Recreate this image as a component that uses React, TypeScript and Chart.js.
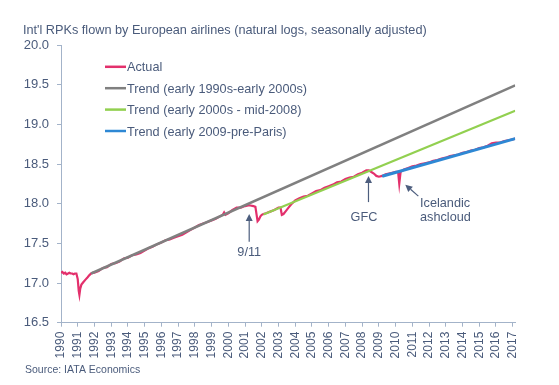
import React, { useEffect, useRef } from "react";
import { Chart, registerables } from "chart.js";

Chart.register(...registerables);

const FONT = '"Liberation Sans", Arial, sans-serif';
const TEXT = "#4A5B7B";
const AXIS = "#A3B3C9";
const ARROW = "#4D5E7E";

const titleText = "Int'l RPKs flown by European airlines (natural logs, seasonally adjusted)";
const sourceText = "Source: IATA Economics";

const xTickYears = [
  1990, 1991, 1992, 1993, 1994, 1995, 1996, 1997, 1998, 1999, 2000, 2001, 2002, 2003,
  2004, 2005, 2006, 2007, 2008, 2009, 2010, 2011, 2012, 2013, 2014, 2015, 2016, 2017,
];
const yTickValues = [16.5, 17.0, 17.5, 18.0, 18.5, 19.0, 19.5, 20.0];

const seriesLabels = [
  "Actual",
  "Trend (early 1990s-early 2000s)",
  "Trend (early 2000s - mid-2008)",
  "Trend (early 2009-pre-Paris)",
];
const seriesColors = ["#E3306C", "#808080", "#92D050", "#2E88D4"];

const actualYears = [
  1990.0, 1990.08, 1990.17, 1990.25, 1990.33, 1990.42, 1990.5, 1990.58, 1990.67, 1990.75, 1990.83, 1990.92,
  1991.0, 1991.06, 1991.1, 1991.15, 1991.22, 1991.33, 1991.45, 1991.58, 1991.7, 1991.8, 1991.92,
  1992.0, 1992.25, 1992.5, 1992.75, 1993.0, 1993.25, 1993.5, 1993.75,
  1994.0, 1994.25, 1994.5, 1994.75, 1995.0, 1995.25, 1995.5, 1995.75,
  1996.0, 1996.25, 1996.5, 1996.75, 1997.0, 1997.25, 1997.5, 1997.75,
  1998.0, 1998.25, 1998.5, 1998.75, 1999.0, 1999.25, 1999.5, 1999.67, 1999.75, 1999.83,
  2000.0, 2000.25, 2000.5, 2000.75, 2001.0, 2001.25, 2001.5, 2001.62, 2001.7, 2001.75, 2001.83, 2001.92,
  2002.0, 2002.1, 2002.25, 2002.5, 2002.75,
  2003.0, 2003.12, 2003.2, 2003.3, 2003.45, 2003.6, 2003.75,
  2004.0, 2004.25, 2004.5, 2004.75, 2005.0, 2005.25, 2005.5, 2005.75,
  2006.0, 2006.25, 2006.5, 2006.75, 2007.0, 2007.25, 2007.5, 2007.75,
  2008.0, 2008.25, 2008.4, 2008.55, 2008.7, 2008.85,
  2009.0, 2009.2, 2009.4, 2009.6, 2009.8,
  2010.0, 2010.15, 2010.22, 2010.3, 2010.5, 2010.75,
  2011.0, 2011.25, 2011.5, 2011.75, 2012.0, 2012.25, 2012.5, 2012.75,
  2013.0, 2013.25, 2013.5, 2013.75, 2014.0, 2014.25, 2014.5, 2014.75,
  2015.0, 2015.25, 2015.5, 2015.75, 2016.0, 2016.25, 2016.5, 2016.75,
  2017.0, 2017.15,
];
const actualValues = [
  17.13, 17.14, 17.12, 17.13, 17.11, 17.12, 17.13, 17.12, 17.12, 17.11, 17.12, 17.12,
  17.05, 16.9, 16.85, 16.93, 16.98, 17.01, 17.04, 17.07, 17.1, 17.12, 17.13,
  17.13, 17.15, 17.19, 17.2, 17.24, 17.25, 17.27, 17.31,
  17.32, 17.35, 17.36, 17.38, 17.41, 17.44, 17.46, 17.49,
  17.51, 17.54, 17.55, 17.57, 17.59, 17.61, 17.64, 17.67,
  17.7, 17.73, 17.75, 17.77, 17.79, 17.81, 17.84, 17.86, 17.89, 17.86,
  17.88, 17.92, 17.95, 17.95, 17.97, 17.98, 17.97, 17.96, 17.85, 17.78, 17.8, 17.84,
  17.86, 17.87, 17.88, 17.9, 17.92,
  17.95, 17.95, 17.86, 17.87, 17.91, 17.95, 17.99,
  18.04, 18.07, 18.09, 18.1, 18.13, 18.16, 18.17, 18.2,
  18.22, 18.24, 18.27, 18.28, 18.31, 18.33, 18.34, 18.37,
  18.39, 18.42, 18.42, 18.4, 18.38, 18.35,
  18.34, 18.35, 18.37, 18.38, 18.39,
  18.4, 18.4, 18.25, 18.4, 18.43, 18.45,
  18.47, 18.48, 18.5, 18.51, 18.52, 18.54, 18.55, 18.57,
  18.58, 18.6, 18.61, 18.62, 18.64, 18.65, 18.67, 18.68,
  18.7, 18.71, 18.73, 18.76, 18.77, 18.77, 18.79, 18.8,
  18.81, 18.82,
];

const trend1Years = [1991.8, 2017.15];
const trend1Values = [17.12, 19.49];
const trend2Years = [2002.1, 2017.15];
const trend2Values = [17.865, 19.17];
const trend3Years = [2009.2, 2017.15];
const trend3Values = [18.345, 18.82];

// annotation anchors in data units (arrow tail -> arrow tip)
const annotationLabels = [["9/11"], ["GFC"], ["Icelandic", "ashcloud"]];
const annotationTail = [
  [2001.25, 17.52],
  [2008.38, 18.02],
  [2011.36, 18.095],
];
const annotationTip = [
  [2001.25, 17.87],
  [2008.38, 18.35],
  [2010.58, 18.24],
];

const toPoints = (xs: number[], ys: number[]) => xs.map((x, i) => ({ x, y: ys[i] }));

const overlay = {
  id: "overlay",
  afterDraw(chart: any) {
    const { ctx } = chart;
    const xs = chart.scales.x;
    const ys = chart.scales.y;
    ctx.save();
    ctx.fillStyle = TEXT;
    ctx.textBaseline = "alphabetic";
    ctx.textAlign = "left";

    // title
    ctx.font = `12.7px ${FONT}`;
    ctx.fillText(titleText, 23, 33.5);

    // source
    ctx.font = `10.5px ${FONT}`;
    ctx.fillText(sourceText, 25, 373);

    // legend
    ctx.font = `12.7px ${FONT}`;
    chart.data.datasets.forEach((ds: any, i: number) => {
      const base = 71.3 + i * 21.4;
      const cy = base - 4.5;
      ctx.strokeStyle = ds.borderColor;
      ctx.lineWidth = 2.5;
      ctx.beginPath();
      ctx.moveTo(105, cy);
      ctx.lineTo(126, cy);
      ctx.stroke();
      ctx.fillStyle = TEXT;
      ctx.fillText(ds.label, 127, base);
    });

    // annotations
    const textOffsets = [
      { dx: 0, dy: 14, align: "center" },
      { dx: -4.5, dy: 18.5, align: "center" },
      { dx: 1.7, dy: 10.5, align: "left" },
    ];
    annotationLabels.forEach((lines, i) => {
      const x0 = xs.getPixelForValue(annotationTail[i][0]);
      const y0 = ys.getPixelForValue(annotationTail[i][1]);
      const x1 = xs.getPixelForValue(annotationTip[i][0]);
      const y1 = ys.getPixelForValue(annotationTip[i][1]);
      const ang = Math.atan2(y1 - y0, x1 - x0);
      const hl = 7;
      const hw = 3.5;
      const bx = x1 - hl * Math.cos(ang);
      const by = y1 - hl * Math.sin(ang);
      ctx.strokeStyle = ARROW;
      ctx.fillStyle = ARROW;
      ctx.lineWidth = 1.2;
      ctx.beginPath();
      ctx.moveTo(x0, y0);
      ctx.lineTo(bx, by);
      ctx.stroke();
      ctx.beginPath();
      ctx.moveTo(x1, y1);
      ctx.lineTo(bx + hw * Math.sin(ang), by - hw * Math.cos(ang));
      ctx.lineTo(bx - hw * Math.sin(ang), by + hw * Math.cos(ang));
      ctx.closePath();
      ctx.fill();
      ctx.fillStyle = TEXT;
      ctx.font = `12.7px ${FONT}`;
      ctx.textAlign = textOffsets[i].align as CanvasTextAlign;
      lines.forEach((t, k) => {
        ctx.fillText(t, x0 + textOffsets[i].dx, y0 + textOffsets[i].dy + k * 14.5);
      });
    });
    ctx.restore();
  },
};

export default function App() {
  const ref = useRef<HTMLCanvasElement>(null);
  useEffect(() => {
    const canvas = ref.current;
    if (!canvas) return;
    const chart = new Chart(canvas, {
      type: "line",
      data: {
        datasets: [
          {
            label: seriesLabels[0],
            data: toPoints(actualYears, actualValues),
            borderColor: seriesColors[0],
            backgroundColor: seriesColors[0],
            borderWidth: 2.2,
            order: 1,
          },
          {
            label: seriesLabels[1],
            data: toPoints(trend1Years, trend1Values),
            borderColor: seriesColors[1],
            backgroundColor: seriesColors[1],
            borderWidth: 2.5,
            order: 0,
          },
          {
            label: seriesLabels[2],
            data: toPoints(trend2Years, trend2Values),
            borderColor: seriesColors[2],
            backgroundColor: seriesColors[2],
            borderWidth: 2.2,
            order: 0,
          },
          {
            label: seriesLabels[3],
            data: toPoints(trend3Years, trend3Values),
            borderColor: seriesColors[3],
            backgroundColor: seriesColors[3],
            borderWidth: 3,
            order: 0,
          },
        ],
      },
      options: {
        responsive: false,
        animation: false,
        layout: { padding: { left: 0, right: 43.8, top: 45, bottom: 22.3 } },
        elements: { point: { radius: 0 }, line: { tension: 0 } },
        plugins: {
          legend: { display: false },
          tooltip: { enabled: false },
          title: { display: false },
        },
        scales: {
          x: {
            type: "linear",
            min: 1990,
            max: 2017.15,
            afterBuildTicks: (s: any) => {
              s.ticks = xTickYears.map((v) => ({ value: v }));
            },
            afterFit: (s: any) => {
              s.height = 40;
            },
            ticks: {
              autoSkip: false,
              minRotation: 90,
              maxRotation: 90,
              padding: 5,
              color: TEXT,
              font: { family: FONT, size: 12 },
              callback: (v: any) => String(v),
            },
            grid: { drawOnChartArea: false, drawTicks: true, tickLength: 4, color: AXIS },
            border: { display: true, color: AXIS, width: 1 },
          },
          y: {
            type: "linear",
            min: 16.5,
            max: 20,
            afterBuildTicks: (s: any) => {
              s.ticks = yTickValues.map((v) => ({ value: v }));
            },
            afterFit: (s: any) => {
              s.width = 61;
            },
            ticks: {
              padding: 8,
              color: TEXT,
              font: { family: FONT, size: 13 },
              callback: (v: any) => Number(v).toFixed(1),
            },
            grid: { drawOnChartArea: false, drawTicks: true, tickLength: 4, color: AXIS },
            border: { display: true, color: AXIS, width: 1 },
          },
        },
      },
      plugins: [overlay],
    });
    return () => chart.destroy();
  }, []);
  return (
    <div style={{ position: "fixed", left: 0, top: 0, width: 559, height: 385, background: "#fff" }}>
      <canvas ref={ref} width={559} height={385} />
    </div>
  );
}
